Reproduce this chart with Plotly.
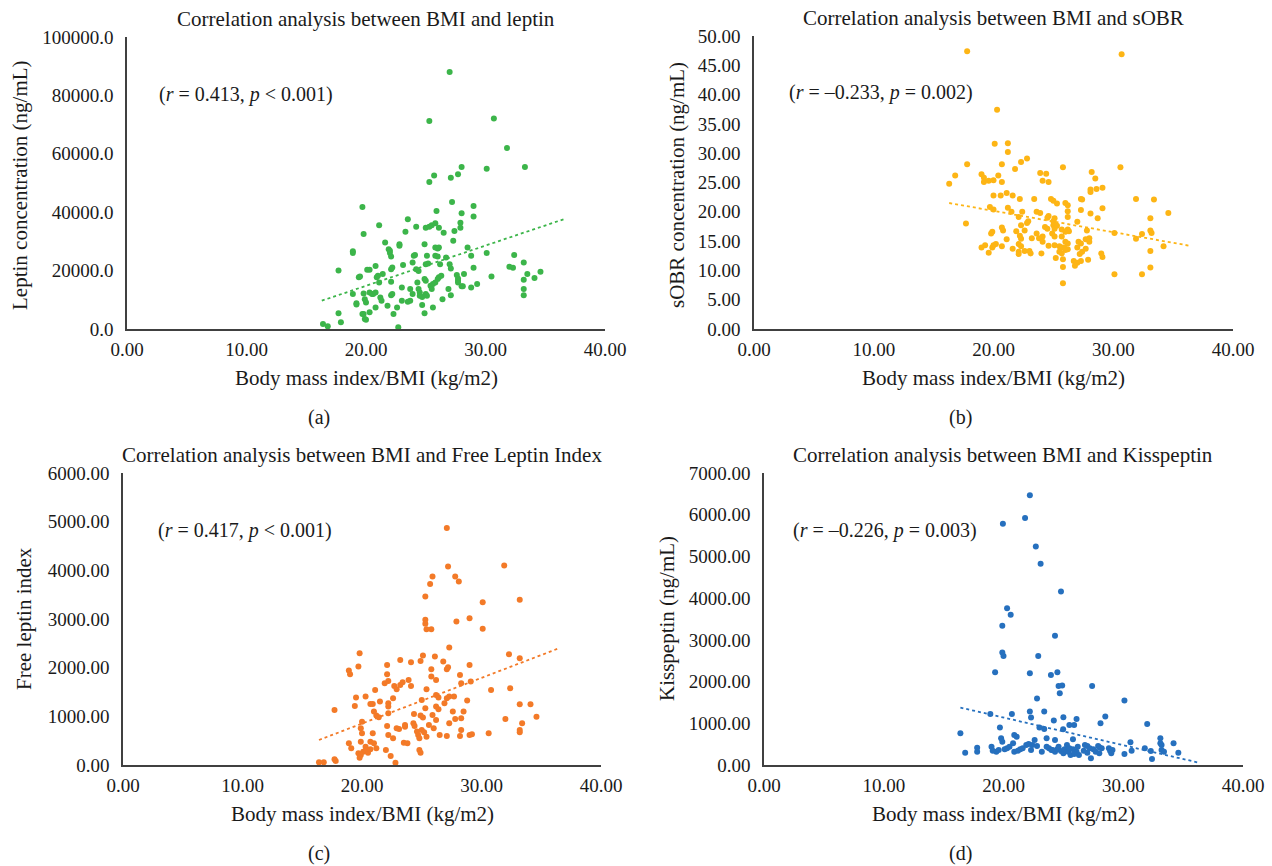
import plotly.graph_objects as go

# ---------------- DATA ----------------
# Panel (a): BMI vs leptin
bmi_a = [16.4, 16.8, 17.7, 17.7, 17.9, 18.9, 18.9, 18.9, 19.2, 19.2, 19.4, 19.5, 19.7, 19.8, 19.7, 19.8,
         19.9, 20.0, 19.9, 20.0, 19.8, 20.1, 20.3, 20.3, 20.5, 20.3, 20.6, 20.8, 20.8, 20.8, 20.9, 21.0,
         21.1, 21.1, 21.2, 21.3, 21.4, 21.6, 21.8, 21.9, 22.0, 22.0, 22.1, 22.1, 22.2, 22.1, 22.1, 22.2,
         22.3, 22.6, 22.7, 22.8, 22.8, 23.0, 23.0, 23.1, 23.3, 23.5, 23.5, 23.7, 23.7, 23.9, 23.9, 24.0,
         24.1, 24.2, 24.2, 24.4, 24.3, 24.4, 24.5, 24.5, 24.7, 24.7, 24.9, 24.9, 24.9, 25.0, 25.0, 25.1,
         25.0, 25.2, 25.1, 25.0, 25.3, 25.5, 25.3, 25.3, 25.4, 25.5, 25.6, 25.6, 25.8, 25.7, 25.8, 25.8,
         26.0, 25.8, 26.0, 26.1, 25.9, 26.0, 26.1, 26.3, 26.1, 26.2, 26.4, 26.5, 26.7, 26.9, 27.0, 27.0,
         27.1, 27.1, 27.1, 27.2, 27.3, 27.4, 27.6, 27.7, 27.7, 27.7, 27.7, 27.9, 27.9, 28.0, 28.1, 28.0,
         28.0, 28.2, 28.5, 28.8, 28.8, 29.0, 29.0, 29.0, 29.3, 30.1, 30.1, 30.5, 30.7, 31.8, 32.0, 32.3,
         32.4, 33.2, 33.2, 33.2, 33.2, 33.3, 33.5, 34.1, 34.6]
leptin = [1700, 900, 20000, 5400, 2300, 26600, 26000, 12000, 8800, 8400, 17700, 18000, 41800, 32500, 5100, 5100,
          3400, 3200, 10200, 9100, 12200, 20300, 20300, 12500, 12000, 5700, 12000, 12500, 21600, 7400, 17700, 18200,
          35500, 15900, 10800, 9700, 18800, 29600, 8000, 27300, 26800, 26000, 24800, 20500, 21100, 16200, 11600, 12000,
          5100, 7400, 600, 29000, 28500, 14200, 9700, 21900, 33300, 37600, 9300, 9700, 13700, 12000, 22800, 25100,
          25300, 35000, 20500, 19900, 15900, 13700, 12500, 11400, 11000, 8200, 29000, 5400, 17100, 16500, 12000, 11400,
          22200, 22400, 25100, 34700, 35000, 35500, 50300, 71200, 14800, 13700, 7400, 15400, 15900, 52600, 36200, 25100,
          24800, 27900, 27600, 27900, 40400, 17100, 17700, 18200, 34700, 22200, 10200, 33000, 24500, 13700, 88000, 22200,
          20700, 51800, 11600, 43500, 30200, 33600, 18500, 17300, 16500, 15900, 53000, 34700, 36400, 14600, 14600, 39600,
          55500, 18800, 27900, 25100, 14200, 21000, 42100, 38500, 15400, 26000, 54900, 18000, 72100, 62000, 21300, 21000,
          25300, 22800, 16900, 13700, 11600, 55500, 18800, 17500, 19600]

# Panel (b): BMI vs sOBR
bmi_b = [17.8, 30.7, 20.3, 20.1, 21.2, 21.2, 22.8, 22.3, 17.8, 20.7, 21.8, 25.8, 30.6, 23.9, 24.4, 28.2,
         16.8, 19.0, 19.2, 20.4, 28.5, 24.1, 24.6, 19.2, 19.6, 20.0, 20.7, 16.3, 29.1, 28.6, 28.1, 28.1,
         21.1, 20.0, 20.6, 21.6, 22.2, 23.4, 24.8, 25.0, 27.4, 27.3, 31.9, 33.4, 25.3, 26.0, 26.2, 19.7,
         20.0, 21.2, 29.1, 22.4, 21.5, 23.6, 23.9, 26.2, 27.3, 34.6, 24.6, 24.5, 26.2, 28.1, 22.1, 28.7,
         33.1, 25.1, 25.0, 22.9, 22.8, 17.7, 27.0, 25.0, 25.3, 25.1, 25.7, 24.3, 24.5, 22.3, 20.7, 20.8,
         26.2, 26.3, 26.0, 21.9, 22.6, 19.9, 19.8, 27.8, 33.1, 33.2, 30.1, 23.6, 24.9, 25.1, 22.2, 22.3,
         24.1, 23.8, 32.4, 21.1, 23.2, 27.7, 28.0, 28.0, 31.9, 25.7, 26.0, 26.2, 27.1, 27.3, 24.1, 22.1,
         22.3, 19.3, 19.0, 20.0, 20.2, 19.9, 20.7, 25.1, 25.5, 25.7, 24.6, 25.9, 26.2, 27.0, 34.2, 27.7,
         27.4, 27.2, 21.6, 22.6, 23.0, 23.1, 22.1, 22.1, 19.6, 25.5, 25.7, 26.0, 33.1, 24.0, 29.0, 29.1,
         25.2, 25.8, 26.7, 27.3, 27.0, 27.9, 26.8, 25.8, 33.1, 30.1, 32.4, 25.8]
sobr = [47.4, 46.9, 37.4, 31.6, 31.7, 30.2, 29.1, 28.5, 28.1, 28.1, 27.3, 27.6, 27.6, 26.6, 26.5, 26.8,
        26.2, 26.4, 25.8, 26.2, 25.7, 25.3, 25.1, 25.1, 25.3, 25.4, 25.1, 24.8, 24.1, 23.9, 23.8, 23.4,
        23.2, 22.8, 22.8, 22.8, 22.2, 22.2, 22.2, 21.9, 22.1, 22.2, 22.2, 22.1, 21.4, 21.5, 21.1, 20.8,
        20.4, 20.7, 20.6, 20.0, 20.0, 20.0, 19.8, 20.1, 20.3, 19.8, 19.3, 19.0, 19.1, 19.7, 19.1, 18.9,
        18.9, 18.9, 18.4, 18.4, 18.1, 18.0, 18.3, 17.7, 17.6, 17.1, 17.0, 17.4, 17.1, 17.7, 17.3, 16.8,
        17.0, 16.7, 16.6, 16.7, 16.8, 16.6, 16.3, 16.8, 16.8, 16.4, 16.4, 16.3, 16.3, 15.8, 15.9, 15.4,
        15.8, 15.5, 16.2, 15.3, 15.5, 15.3, 15.5, 14.9, 15.4, 15.8, 14.9, 14.6, 14.9, 14.6, 14.9, 14.5,
        14.1, 14.3, 13.9, 14.3, 14.5, 13.9, 14.1, 14.3, 14.1, 13.9, 14.2, 13.9, 13.6, 13.9, 14.1, 13.7,
        13.2, 12.8, 13.7, 13.3, 13.3, 12.9, 13.2, 12.8, 13.0, 13.2, 12.9, 13.5, 13.3, 12.9, 12.9, 12.3,
        12.1, 11.9, 11.6, 11.6, 11.3, 11.8, 10.8, 10.6, 10.5, 9.35, 9.35, 7.8]

# Panel (c): BMI vs Free Leptin Index
bmi_c = [16.4, 16.8, 17.7, 17.8, 17.7, 18.9, 19.0, 18.9, 19.1, 19.4, 19.5, 19.7, 19.8, 19.7, 19.9, 19.8,
         20.1, 19.9, 20.0, 19.9, 20.0, 20.3, 20.3, 20.3, 20.5, 20.7, 20.7, 20.9, 20.9, 20.7, 21.0, 21.0,
         21.2, 21.2, 21.4, 21.5, 21.1, 21.9, 22.0, 22.1, 22.1, 22.2, 22.2, 22.2, 22.2, 22.1, 22.2, 22.4,
         22.6, 22.6, 22.7, 22.9, 22.8, 22.9, 23.1, 23.2, 23.4, 23.2, 23.5, 23.8, 23.6, 23.6, 23.9, 24.1,
         24.1, 24.3, 24.4, 24.35, 24.6, 24.7, 24.8, 24.8, 24.9, 24.9, 25.1, 24.9, 25.0, 25.2, 25.1, 25.3,
         25.3, 25.3, 25.0, 25.3, 25.4, 25.4, 25.8, 25.4, 25.7, 25.9, 25.6, 25.8, 25.8, 25.9, 26.1, 26.0,
         26.2, 26.2, 26.4, 26.2, 26.4, 26.2, 26.5, 26.8, 26.9, 27.1, 27.1, 27.2, 27.1, 27.3, 27.2, 27.3,
         27.3, 27.1, 27.7, 27.6, 27.8, 27.8, 27.9, 28.1, 28.2, 28.3, 28.2, 28.3, 28.3, 28.5, 28.8, 29.0,
         29.0, 29.1, 29.0, 29.2, 30.1, 30.1, 30.6, 30.8, 31.9, 32.0, 32.3, 32.4, 33.2, 33.2, 33.2, 33.2,
         33.2, 33.4, 34.1, 34.6]
fli = [55, 55, 117, 82, 1130, 1940, 1865, 446, 343, 1214, 1385, 2023, 2297, 240, 206, 151,
       274, 754, 651, 480, 891, 1406, 377, 295, 254, 322, 1255, 1255, 651, 480, 446, 1097,
       1015, 343, 980, 1303, 1543, 1680, 308, 2057, 1865, 1728, 1268, 1200, 1063, 802, 617, 185,
       1371, 549, 1625, 1557, 48, 754, 740, 1645, 1700, 2160, 459, 446, 823, 788, 1748, 1625,
       2112, 857, 802, 1049, 686, 617, 549, 308, 254, 1015, 974, 2139, 720, 672, 2249, 2983,
       2900, 3463, 1337, 1166, 1557, 2791, 2791, 583, 3717, 3874, 823, 1817, 1968, 1028, 2228, 754,
       1748, 1440, 1385, 1200, 1145, 926, 617, 2126, 1268, 4869, 1968, 2009, 1371, 1406, 4080, 2414,
       857, 597, 1406, 1097, 946, 3874, 2949, 3771, 1851, 1680, 597, 720, 960, 1097, 1323, 3017,
       2057, 1714, 617, 631, 3346, 2798, 651, 1543, 4100, 946, 2276, 1577, 3394, 2194, 1248, 720,
       672, 857, 1248, 994]

# Panel (d): BMI vs Kisspeptin
bmi_d = [16.4, 16.8, 17.8, 17.8, 18.9, 19.0, 19.1, 19.4, 19.3, 19.7, 19.8, 19.9, 19.9, 19.9, 20.0, 19.95,
         19.6, 20.1, 20.3, 20.3, 20.5, 20.6, 20.7, 20.8, 20.9, 21.1, 20.9, 21.2, 21.4, 21.6, 21.8, 21.9,
         22.1, 22.2, 22.2, 22.2, 22.3, 22.3, 22.4, 22.8, 22.6, 22.7, 22.8, 22.9, 23.0, 23.4, 23.1, 23.2,
         23.4, 23.6, 23.6, 23.8, 24.0, 23.96, 24.2, 24.3, 24.3, 24.1, 24.3, 24.5, 24.5, 24.6, 24.7, 24.8,
         24.9, 24.98, 25.0, 24.6, 24.8, 25.0, 25.1, 25.3, 25.4, 25.5, 25.6, 25.5, 25.9, 25.8, 26.1, 25.8,
         26.1, 26.2, 26.3, 25.9, 26.8, 27.0, 27.2, 26.7, 27.0, 27.3, 27.4, 27.5, 27.7, 27.9, 28.0, 28.2,
         28.1, 28.0, 28.5, 28.8, 28.9, 29.1, 29.0, 30.1, 30.1, 30.6, 30.7, 31.8, 32.0, 32.3, 32.4, 33.1,
         33.1, 33.2, 33.2, 33.4, 34.2, 34.6]
kiss = [760, 296, 416, 320, 1224, 440, 344, 320, 2224, 896, 640, 560, 3336, 2696, 2616, 5784,
        360, 376, 3760, 400, 440, 3600, 1224, 520, 720, 680, 320, 344, 376, 400, 5920, 480,
        504, 2200, 1280, 6464, 1136, 360, 480, 456, 600, 5240, 1592, 2616, 896, 864, 4824, 320,
        1280, 640, 440, 400, 360, 2160, 1064, 3096, 600, 360, 320, 376, 2224, 1896, 1720, 4160,
        1904, 856, 1144, 440, 336, 280, 376, 480, 320, 400, 240, 960, 960, 616, 1104, 376,
        320, 440, 240, 264, 480, 456, 400, 344, 296, 160, 1896, 376, 320, 456, 424, 400,
        1000, 280, 1160, 400, 344, 360, 280, 1544, 264, 544, 344, 400, 984, 336, 144, 640,
        520, 480, 360, 320, 520, 296]

# Trend line endpoints
trend_bmi_a = [16.3, 36.7]
trend_a = [9700, 37800]
trend_bmi_b = [16.3, 36.4]
trend_b = [21.5, 14.2]
trend_bmi_c = [16.4, 36.5]
trend_c = [514, 2400]
trend_bmi_d = [16.4, 36.2]
trend_d = [1376, 64]

titles = ["Correlation analysis between BMI and leptin",
          "Correlation analysis between BMI and sOBR",
          "Correlation analysis between BMI and Free Leptin Index",
          "Correlation analysis between BMI and Kisspeptin"]
stats = ["(<i>r</i> = 0.413, <i>p</i> &lt; 0.001)",
         "(<i>r</i> = \u20130.233, <i>p</i> = 0.002)",
         "(<i>r</i> = 0.417, <i>p</i> &lt; 0.001)",
         "(<i>r</i> = \u20130.226, <i>p</i> = 0.003)"]
ytitles = ["Leptin concentration (ng/mL)", "sOBR concentration (ng/mL)",
           "Free leptin index", "Kisspeptin (ng/mL)"]
xtitle = "Body mass index/BMI (kg/m2)"
letters = ["(a)", "(b)", "(c)", "(d)"]
colors = ["#3CB54A", "#FDB515", "#F37A28", "#2670BE"]
yranges = [[0, 100000], [0, 50], [0, 6000], [0, 7000]]
ydticks = [20000, 5, 1000, 1000]
yformats = [".1f", ".2f", ".2f", ".2f"]

# ---------------- FIGURE ----------------
W, H = 1272, 866
FONT = "Liberation Serif"
TXT = "#1a1a1a"

# pixel boxes of the plotting areas (left, right, top, bottom)
boxes = [(127, 605, 37, 329), (754, 1233, 36, 329), (123, 601, 473, 765), (764, 1243, 473, 765)]
stat_left = [157, 787, 156, 791]
letter_x = [319, 960, 319, 960]
ytitle_x = [20, 677, 24, 667]
ytitle_y = [185, 185, 619, 619]

xs = [bmi_a, bmi_b, bmi_c, bmi_d]
ys = [leptin, sobr, fli, kiss]
txs = [trend_bmi_a, trend_bmi_b, trend_bmi_c, trend_bmi_d]
tys = [trend_a, trend_b, trend_c, trend_d]

fig = go.Figure()
annotations = []
layout = {}
for i in range(4):
    n = "" if i == 0 else str(i + 1)
    xa, ya = "x" + n, "y" + n
    l, r, t, b = boxes[i]
    fig.add_trace(go.Scatter(x=xs[i], y=ys[i], mode="markers", xaxis=xa, yaxis=ya,
                             marker=dict(color=colors[i], size=6, line=dict(width=0)),
                             showlegend=False, hoverinfo="x+y"))
    fig.add_trace(go.Scatter(x=txs[i], y=tys[i], mode="lines", xaxis=xa, yaxis=ya,
                             line=dict(color=colors[i], width=1.8, dash="dot"),
                             showlegend=False, hoverinfo="skip"))
    layout["xaxis" + n] = dict(domain=[l / W, r / W], anchor=ya, range=[0, 40], dtick=10,
                               tickformat=".2f", showgrid=False, zeroline=False, showline=True,
                               linecolor="#404040", linewidth=1.5, ticks="", fixedrange=True,
                               ticklabelstandoff=2, automargin=False,
                               tickfont=dict(family=FONT, size=19, color=TXT))
    layout["yaxis" + n] = dict(domain=[1 - b / H, 1 - t / H], anchor=xa, range=yranges[i],
                               dtick=ydticks[i], tickformat=yformats[i], showgrid=False,
                               zeroline=False, showline=True, linecolor="#404040", linewidth=1.5,
                               ticks="", fixedrange=True, ticklabelstandoff=8, automargin=False,
                               tickfont=dict(family=FONT, size=19, color=TXT))
    cx = (l + r) / 2
    annotations.append(dict(text=titles[i], x=cx / W, y=1 - (t - 18) / H,
                            xref="paper", yref="paper", showarrow=False,
                            xanchor="center", yanchor="middle",
                            font=dict(family=FONT, size=21, color=TXT)))
    annotations.append(dict(text=stats[i], x=stat_left[i] / W, y=1 - (t + 57) / H,
                            xref="paper", yref="paper", showarrow=False, xanchor="left",
                            yanchor="middle", font=dict(family=FONT, size=20, color=TXT)))
    annotations.append(dict(text=xtitle, x=cx / W, y=1 - (b + 49) / H,
                            xref="paper", yref="paper", showarrow=False, xanchor="center",
                            yanchor="middle", font=dict(family=FONT, size=21, color=TXT)))
    annotations.append(dict(text=letters[i], x=letter_x[i] / W, y=1 - (b + 88) / H,
                            xref="paper", yref="paper", showarrow=False, xanchor="center",
                            yanchor="middle", font=dict(family=FONT, size=20, color=TXT)))
    annotations.append(dict(text=ytitles[i], x=ytitle_x[i] / W, y=1 - ytitle_y[i] / H,
                            xref="paper", yref="paper", showarrow=False, textangle=-90,
                            xanchor="center", yanchor="middle",
                            font=dict(family=FONT, size=21, color=TXT)))

fig.update_layout(width=W, height=H, margin=dict(l=0, r=0, t=0, b=0, autoexpand=False),
                  paper_bgcolor="white", plot_bgcolor="white",
                  annotations=annotations, **layout)

fig.write_html("out.html", config={"displayModeBar": False},
               post_script="document.body.style.margin='0px';")
